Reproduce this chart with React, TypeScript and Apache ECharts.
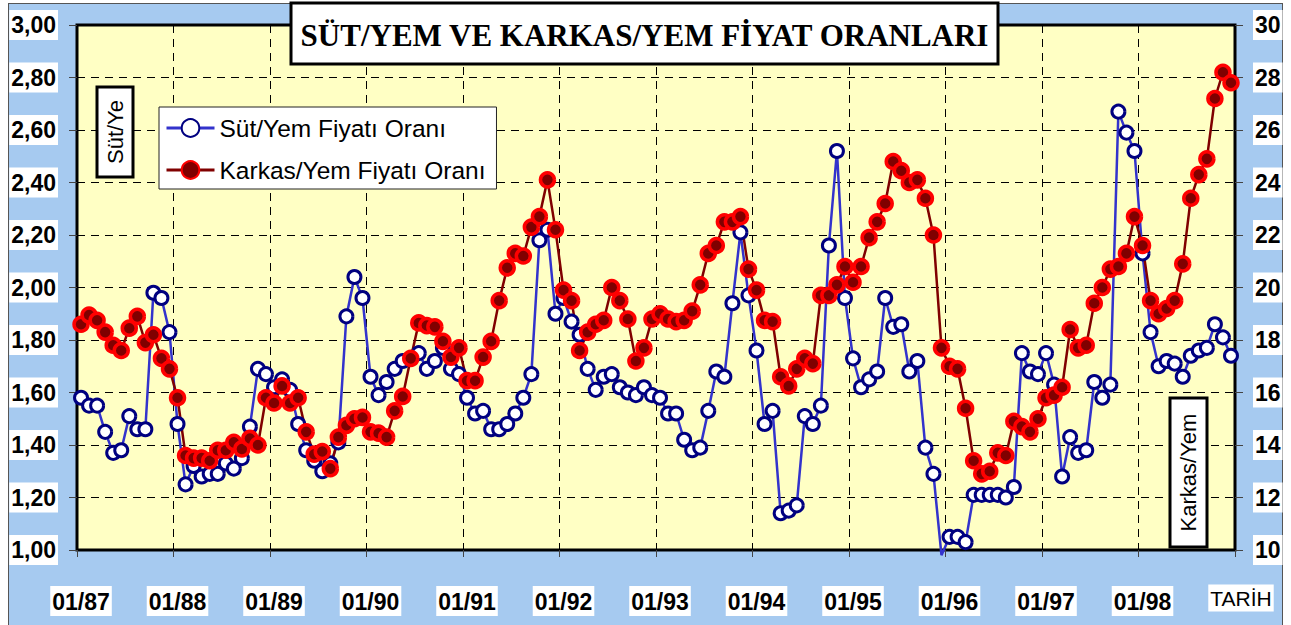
import React, { useEffect, useRef } from "react";
import * as echarts from "echarts";

const years = ["87", "88", "89", "90", "91", "92", "93", "94", "95", "96", "97", "98"];
const months = ["01", "02", "03", "04", "05", "06", "07", "08", "09", "10", "11", "12"];

// Süt/Yem Fiyatı Oranı (left axis), monthly 01/87 .. 12/98
const sutYem = [
  1.58, 1.55, 1.55, 1.45, 1.37, 1.38, 1.51, 1.46, 1.46, 1.98, 1.96, 1.83,
  1.48, 1.25, 1.32, 1.28, 1.29, 1.29, 1.33, 1.31, 1.35, 1.47, 1.69, 1.67,
  1.62, 1.65, 1.61, 1.48, 1.38, 1.34, 1.30, 1.33, 1.41, 1.89, 2.04, 1.96,
  1.66, 1.59, 1.64, 1.69, 1.72, 1.73, 1.75, 1.69, 1.72, 1.77, 1.69, 1.67,
  1.58, 1.52, 1.53, 1.46, 1.46, 1.48, 1.52, 1.58, 1.67, 2.18, 2.22, 1.90,
  1.96, 1.87, 1.82, 1.69, 1.61, 1.66, 1.67, 1.62, 1.60, 1.59, 1.62, 1.59,
  1.58, 1.52, 1.52, 1.42, 1.38, 1.39, 1.53, 1.68, 1.66, 1.94, 2.21, 1.97,
  1.76, 1.48, 1.53, 1.14, 1.15, 1.17, 1.51, 1.48, 1.55, 2.16, 2.52, 1.96,
  1.73, 1.62, 1.65, 1.68, 1.96, 1.85, 1.86, 1.68, 1.72, 1.39, 1.29, 0.98,
  1.05, 1.05, 1.03, 1.21, 1.21, 1.21, 1.21, 1.20, 1.24, 1.75, 1.68, 1.67,
  1.75, 1.63, 1.28, 1.43, 1.37, 1.38, 1.64, 1.58, 1.63, 2.67, 2.59, 2.52,
  2.13, 1.83, 1.70, 1.72, 1.71, 1.66, 1.74, 1.76, 1.77, 1.86, 1.81, 1.74,
];

// Karkas/Yem Fiyatı Oranı (right axis)
const karkasYem = [
  18.6, 18.95, 18.75, 18.3, 17.8, 17.6, 18.45, 18.9, 17.9, 18.2, 17.3, 16.9,
  15.8, 13.6, 13.5, 13.5, 13.4, 13.8, 13.8, 14.1, 13.85, 14.25, 14.0, 15.8,
  15.6, 16.25, 15.6, 15.8, 14.5, 13.65, 13.75, 13.1, 14.3, 14.75, 15.0, 15.05,
  14.5, 14.45, 14.3, 15.3, 15.85, 17.3, 18.65, 18.55, 18.5, 17.95, 17.35, 17.7,
  16.45, 16.45, 17.35, 17.95, 19.5, 20.75, 21.3, 21.2, 22.3, 22.7, 24.1, 22.2,
  19.9, 19.5, 17.6, 18.3, 18.6, 18.75, 20.0, 19.5, 18.8, 17.2, 17.7, 18.8,
  19.0, 18.8, 18.7, 18.75, 19.1, 20.1, 21.3, 21.6, 22.5, 22.5, 22.7, 20.7,
  19.9, 18.75, 18.7, 16.6, 16.25, 16.9, 17.3, 17.1, 19.7, 19.7, 20.1, 20.8,
  20.2, 20.8, 21.9, 22.5, 23.2, 24.8, 24.45, 24.0, 24.1, 23.4, 22.0, 17.7,
  17.0, 16.9, 15.4, 13.4, 12.9, 13.0, 13.7, 13.6, 14.9, 14.7, 14.5, 15.0,
  15.8, 15.9, 16.2, 18.4, 17.7, 17.8, 19.4, 20.0, 20.7, 20.8, 21.3, 22.7,
  21.6, 19.5, 19.0, 19.2, 19.5, 20.9, 23.4, 24.3, 24.9, 27.2, 28.2, 27.8,
];

const seriesNames = ["Süt/Yem Fiyatı Oranı", "Karkas/Yem Fiyatı Oranı"];
const titleText = "SÜT/YEM VE KARKAS/YEM FİYAT ORANLARI";
const leftAxisName = "Süt/Ye";
const rightAxisName = "Karkas/Yem";
const xAxisName = "TARİH";

const categories = years.flatMap((y) => months.map((m) => `${m}/${y}`));

const SANS = "'Liberation Sans', Arial, sans-serif";
const SERIF = "'Liberation Serif', 'Times New Roman', serif";

const LEFT_MIN = 1;

export default function App() {
  const ref = useRef<HTMLDivElement>(null);

  useEffect(() => {
    if (!ref.current) return;
    const chart = echarts.init(ref.current, null, { renderer: "svg" });
    const labelBox = {
      fontFamily: SANS,
      fontWeight: "bold" as const,
      fontSize: 23,
      color: "#000",
      backgroundColor: "#fff",
      padding: [2, 2, 1, 2],
      lineHeight: 27,
    };
    // markers falling below the plot area are hidden, as in the original
    const sutData = sutYem.map((v) =>
      v < LEFT_MIN ? { value: v, symbolSize: 0 } : v
    );
    chart.setOption({
      animation: false,
      backgroundColor: "transparent",
      grid: {
        left: 77,
        top: 25,
        width: 1158,
        height: 525,
        show: true,
        backgroundColor: "#FFFFC4",
        borderColor: "#000",
        borderWidth: 3,
        containLabel: false,
      },
      legend: {
        left: 159,
        top: 107,
        orient: "vertical",
        itemWidth: 48,
        itemHeight: 22,
        itemGap: 14,
        padding: [7, 11, 5, 6],
        backgroundColor: "#fff",
        borderColor: "#222",
        borderWidth: 1,
        selectedMode: false,
        lineStyle: { width: 3 },
        textStyle: { fontSize: 24.5, fontFamily: SANS, color: "#000", lineHeight: 28 },
        data: seriesNames,
      },
      xAxis: {
        type: "category",
        data: categories,
        boundaryGap: true,
        axisLine: { show: false },
        axisTick: { show: true, interval: 11, length: 7, lineStyle: { color: "#444", width: 1 } },
        axisLabel: { ...labelBox, interval: 11, margin: 36 },
        splitLine: { show: true, interval: 11, lineStyle: { color: "#000", width: 1, type: [8, 6] } },
      },
      yAxis: [
        {
          type: "value",
          min: LEFT_MIN,
          max: 3,
          interval: 0.2,
          position: "left",
          axisLine: { show: false },
          axisTick: { show: true, length: 8, lineStyle: { color: "#444" } },
          axisLabel: {
            ...labelBox,
            margin: 19,
            formatter: (v: number) => v.toFixed(2).replace(".", ","),
          },
          splitLine: { show: true, lineStyle: { color: "#000", width: 1, type: [8, 6] } },
        },
        {
          type: "value",
          min: 10,
          max: 30,
          interval: 2,
          position: "right",
          axisLine: { show: false },
          axisTick: { show: true, length: 8, lineStyle: { color: "#444" } },
          axisLabel: { ...labelBox, margin: 18 },
          splitLine: { show: false },
        },
      ],
      series: [
        {
          name: seriesNames[0],
          type: "line",
          yAxisIndex: 0,
          data: sutData,
          clip: false,
          symbol: "circle",
          symbolSize: 13,
          showAllSymbol: true,
          itemStyle: { color: "#fff", borderColor: "#000080", borderWidth: 3 },
          lineStyle: { color: "#3333CC", width: 2.5 },
        },
        {
          name: seriesNames[1],
          type: "line",
          yAxisIndex: 1,
          data: karkasYem,
          symbol: "circle",
          symbolSize: 14,
          showAllSymbol: true,
          itemStyle: { color: "#800000", borderColor: "#FF0000", borderWidth: 3.5 },
          lineStyle: { color: "#800000", width: 2.5 },
        },
      ],
      graphic: [
        {
          type: "rect",
          z: 100,
          shape: { x: 291, y: 3, width: 707, height: 61 },
          style: { fill: "#fff", stroke: "#000", lineWidth: 3 },
        },
        {
          type: "text",
          z: 101,
          x: 644.5,
          y: 35,
          style: {
            text: titleText,
            font: `bold 31px ${SERIF}`,
            fill: "#000",
            align: "center",
            verticalAlign: "middle",
            textAlign: "center",
            textVerticalAlign: "middle",
          },
        },
        {
          type: "rect",
          z: 100,
          shape: { x: 97, y: 87, width: 36, height: 90 },
          style: { fill: "#fff", stroke: "#000", lineWidth: 3 },
        },
        {
          type: "text",
          z: 101,
          x: 115,
          y: 132,
          rotation: Math.PI / 2,
          style: {
            text: leftAxisName,
            font: `22px ${SANS}`,
            fill: "#000",
            align: "center",
            verticalAlign: "middle",
            textAlign: "center",
            textVerticalAlign: "middle",
          },
        },
        {
          type: "rect",
          z: 100,
          shape: { x: 1170, y: 398, width: 37, height: 149 },
          style: { fill: "#fff", stroke: "#000", lineWidth: 3 },
        },
        {
          type: "text",
          z: 101,
          x: 1188.5,
          y: 472.5,
          rotation: Math.PI / 2,
          style: {
            text: rightAxisName,
            font: `22px ${SANS}`,
            fill: "#000",
            align: "center",
            verticalAlign: "middle",
            textAlign: "center",
            textVerticalAlign: "middle",
          },
        },
        {
          type: "text",
          z: 101,
          x: 1241,
          y: 598,
          style: {
            text: xAxisName,
            font: `21px ${SANS}`,
            fill: "#000",
            align: "center",
            verticalAlign: "middle",
            textAlign: "center",
            textVerticalAlign: "middle",
            backgroundColor: "#fff",
            padding: [3, 2, 3, 2],
          },
        },
      ],
    });
    return () => chart.dispose();
  }, []);

  return (
    <>
      <div
        style={{
          position: "fixed",
          left: 8,
          top: 3,
          width: 1275,
          height: 640,
          background: "#A6CAF0",
          border: "1.5px solid #555",
          boxSizing: "border-box",
        }}
      />
      <div
        ref={ref}
        style={{ position: "fixed", left: 0, top: 0, width: 1291, height: 625 }}
      />
    </>
  );
}
